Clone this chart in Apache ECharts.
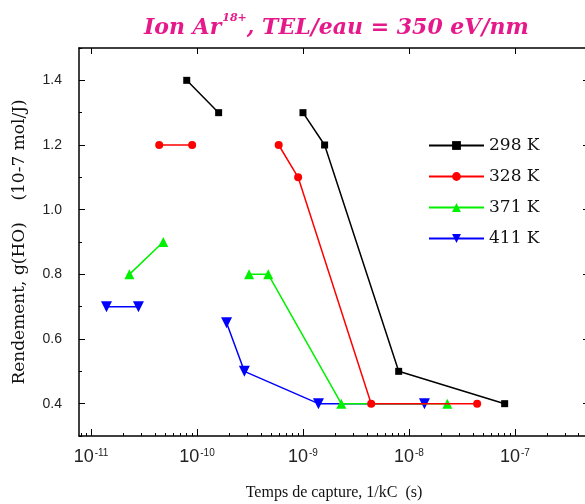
<!DOCTYPE html>
<html><head><meta charset="utf-8">
<script src="https://cdn.jsdelivr.net/npm/echarts@6/dist/echarts.min.js"></script>
<style>html,body{margin:0;padding:0;background:#fff}#c{width:585px;height:504px}</style>
</head><body><div id="c"></div>
<script>
// ---- data (capture time in s, yield g(HO) in 10-7 mol/J); null = gap ----
const seriesNames = ['298 K', '328 K', '371 K', '411 K'];
const t298 = [8e-11, 1.6e-10, null, 1e-9, 1.6e-9, 8e-9, 8e-8];
const g298 = [1.4, 1.3, null, 1.3, 1.2, 0.5, 0.4];
const t328 = [4.4e-11, 9e-11, null, 5.9e-10, 9e-10, 4.4e-9, 4.4e-8];
const g328 = [1.2, 1.2, null, 1.2, 1.1, 0.4, 0.4];
const t371 = [2.3e-11, 4.8e-11, null, 3.1e-10, 4.7e-10, 2.3e-9, 2.3e-8];
const g371 = [0.8, 0.9, null, 0.8, 0.8, 0.4, 0.4];
const t411 = [1.4e-11, 2.8e-11, null, 1.9e-10, 2.8e-10, 1.4e-9, 1.4e-8];
const g411 = [0.7, 0.7, null, 0.65, 0.5, 0.4, 0.4];

const xMajorTicks = [1e-11, 1e-10, 1e-9, 1e-8, 1e-7];
const xTickExponents = ['-11', '-10', '-9', '-8', '-7'];
const yTickLabels = [0.4, 0.6, 0.8, 1.0, 1.2, 1.4];

const X_MIN = 7.7e-12, X_MAX = 5e-7, Y_MIN = 0.3, Y_MAX = 1.5;

const xMinorTicks = [];
for (let e = -12; e <= -7; e++) {
  for (let m = 2; m <= 9; m++) {
    const v = Number(m + 'e' + e);
    if (v >= X_MIN && v <= X_MAX) xMinorTicks.push(v);
  }
}

function pairs(xs, ys) {
  return xs.map((x, i) => (x == null || ys[i] == null) ? ['-', '-'] : [x, ys[i]]);
}

const colors = ['#000000', '#ff0000', '#00f000', '#0000ff'];
const symbols = ['rect', 'circle', 'triangle', 'triangle'];
const symbolSizes = [7, 8, 10, 11];
const rotations = [0, 0, 0, 180];
const allT = [t298, t328, t371, t411];
const allG = [g298, g328, g371, g411];

const chart = echarts.init(document.getElementById('c'), null, {renderer: 'canvas'});

const grid = {left: 79, top: 48, right: -4, bottom: 68, containLabel: false, outerBoundsMode: 'none'};

const commonX = {type: 'log', logBase: 10, min: X_MIN, max: X_MAX, gridIndex: 0, splitLine: {show: false}};
const commonY = {type: 'value', min: Y_MIN, max: Y_MAX, gridIndex: 0, splitLine: {show: false}};

const option = {
  animation: false,
  backgroundColor: '#ffffff',
  title: {
    text: '{a|Ion Ar}{s|18+}{a|, TEL/eau = 350 eV/nm}',
    left: 144, top: 13, padding: 0,
    textStyle: {
      rich: {
        a: {fontFamily: 'DejaVu Serif', fontStyle: 'italic', fontWeight: 'bold', fontSize: 22, color: '#e6198b'},
        s: {fontFamily: 'DejaVu Serif', fontStyle: 'italic', fontWeight: 'bold', fontSize: 11, color: '#e6198b', verticalAlign: 'top', padding: [0, 0, 20, 1]}
      }
    }
  },
  legend: {
    orient: 'vertical', left: 428, top: 137, padding: 0,
    itemWidth: 55, itemHeight: 11, itemGap: 14,
    data: seriesNames,
    textStyle: {fontFamily: 'DejaVu Serif', fontSize: 17, color: '#111'}
  },
  grid: grid,
  xAxis: [
    Object.assign({}, commonX, {
      position: 'bottom',
      name: 'Temps de capture, 1/kC  (s)', nameLocation: 'middle', nameGap: 49,
      nameTextStyle: {fontFamily: 'Liberation Serif', fontSize: 16, color: '#111'},
      axisLine: {show: true, lineStyle: {color: '#000', width: 1.5}},
      axisTick: {show: true, inside: true, length: 7, customValues: xMajorTicks, lineStyle: {color: '#000', width: 1}},
      axisLabel: {
        show: true, margin: 12, customValues: xMajorTicks,
        formatter: function (v) {
          const idx = xMajorTicks.findIndex(t => Math.abs(Math.log10(t) - Math.log10(v)) < 0.01);
          return '{b|10}{s|' + (idx >= 0 ? xTickExponents[idx] : '') + '}';
        },
        rich: {
          b: {fontFamily: 'Liberation Sans', fontSize: 18, color: '#222'},
          s: {fontFamily: 'Liberation Sans', fontSize: 10, color: '#222', verticalAlign: 'top', padding: [0, 0, 8, 1]}
        }
      }
    }),
    Object.assign({}, commonX, {
      position: 'bottom',
      axisLine: {show: false},
      axisTick: {show: true, inside: true, length: 3, customValues: xMinorTicks, lineStyle: {color: '#000', width: 1}},
      axisLabel: {show: false}
    }),
    Object.assign({}, commonX, {
      position: 'top',
      axisLine: {show: true, lineStyle: {color: '#000', width: 1.5}},
      axisTick: {show: true, inside: true, length: 6, customValues: xMajorTicks, lineStyle: {color: '#000', width: 1}},
      axisLabel: {show: false}
    })
  ],
  yAxis: [
    Object.assign({}, commonY, {
      position: 'left', interval: 0.1,
      name: 'Rendement, g(HO)    (10-7 mol/J)', nameLocation: 'middle', nameGap: 51,
      nameTextStyle: {fontFamily: 'DejaVu Serif', fontSize: 17, color: '#111'},
      axisLine: {show: true, lineStyle: {color: '#000', width: 1.5}},
      axisTick: {show: true, inside: true, length: 3, lineStyle: {color: '#000', width: 1}},
      axisLabel: {
        show: true, margin: 17, customValues: yTickLabels,
        fontFamily: 'Liberation Sans', fontSize: 14, color: '#222',
        formatter: v => Number(v).toFixed(1)
      }
    }),
    Object.assign({}, commonY, {
      position: 'left',
      axisLine: {show: false},
      axisTick: {show: true, inside: true, length: 6, customValues: yTickLabels, lineStyle: {color: '#000', width: 1}},
      axisLabel: {show: false}
    }),
    Object.assign({}, commonY, {
      position: 'right',
      axisLine: {show: true, lineStyle: {color: '#000', width: 1.5}},
      axisTick: {show: true, inside: true, length: 6, customValues: yTickLabels, lineStyle: {color: '#000', width: 1}},
      axisLabel: {show: false}
    })
  ],
  series: seriesNames.map((name, i) => ({
    name: name,
    type: 'line',
    xAxisIndex: 0, yAxisIndex: 0,
    data: pairs(allT[i], allG[i]),
    connectNulls: false,
    symbol: symbols[i],
    symbolSize: symbolSizes[i],
    symbolRotate: rotations[i],
    showAllSymbol: true,
    color: colors[i],
    lineStyle: {color: colors[i], width: 1.5},
    itemStyle: {color: colors[i]},
    z: 10 - i
  }))
};
chart.setOption(option);
</script>
</body></html>
